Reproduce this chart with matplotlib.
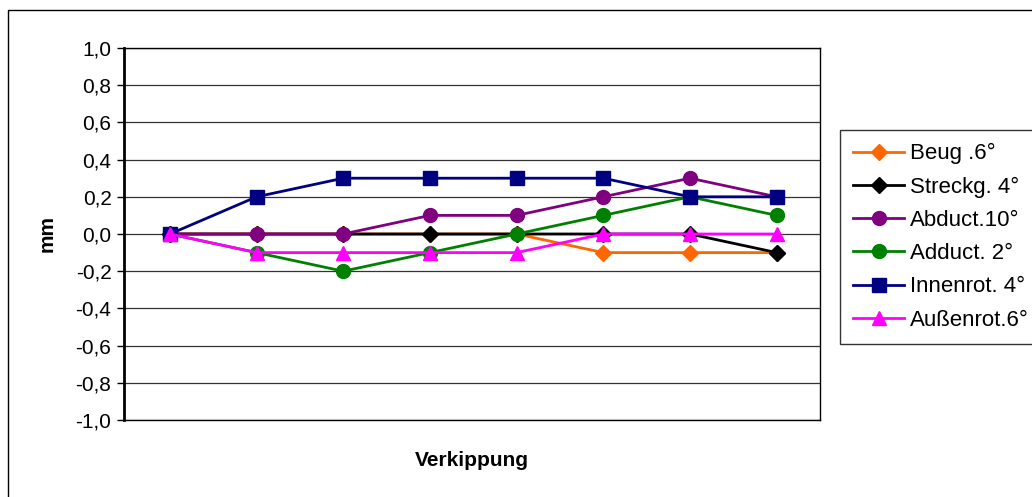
import matplotlib
matplotlib.use("Agg")
import matplotlib.pyplot as plt
from matplotlib.patches import Rectangle
from matplotlib.ticker import FuncFormatter

plt.rcParams['font.family'] = ['Liberation Sans', 'DejaVu Sans']

# Verkippungsstufen (ohne Beschriftung auf der x-Achse)
steps = [1, 2, 3, 4, 5, 6, 7, 8]

beug = [0.0, 0.0, 0.0, 0.0, 0.0, -0.1, -0.1, -0.1]
streckg = [0.0, 0.0, 0.0, 0.0, 0.0, 0.0, 0.0, -0.1]
abduct = [0.0, 0.0, 0.0, 0.1, 0.1, 0.2, 0.3, 0.2]
adduct = [0.0, -0.1, -0.2, -0.1, 0.0, 0.1, 0.2, 0.1]
innenrot = [0.0, 0.2, 0.3, 0.3, 0.3, 0.3, 0.2, 0.2]
aussenrot = [0.0, -0.1, -0.1, -0.1, -0.1, 0.0, 0.0, 0.0]

labels = ['Beug .6°', 'Streckg. 4°', 'Abduct.10°', 'Adduct. 2°',
          'Innenrot. 4°', 'Außenrot.6°']
yticks = [-1.0, -0.8, -0.6, -0.4, -0.2, 0.0, 0.2, 0.4, 0.6, 0.8, 1.0]

series = [
    (beug, '#FF6600', 'D', 8),
    (streckg, '#000000', 'D', 8),
    (abduct, '#800080', 'o', 10),
    (adduct, '#008000', 'o', 10),
    (innenrot, '#000080', 's', 9.5),
    (aussenrot, '#FF00FF', '^', 10),
]

fig = plt.figure(figsize=(10.32, 4.97), dpi=100)
ax = fig.add_axes([124 / 1032, 1 - 420 / 497, 696 / 1032, 372 / 497])

# Rahmen um das ganze Diagramm
fig.patches.append(Rectangle((8 / 1032, -0.05), 1.2, 1 - 10 / 497 + 0.05,
                             transform=fig.transFigure, fill=False,
                             edgecolor='black', linewidth=1.0))

for (vals, color, marker, ms), lab in zip(series, labels):
    ax.plot(steps, vals, color=color, marker=marker, markersize=ms,
            linewidth=2, label=lab, zorder=3)

ax.set_xlim(0.47, 8.5)
ax.set_ylim(-1.0, 1.0)
ax.set_yticks(yticks)
ax.yaxis.set_major_formatter(FuncFormatter(lambda v, p: f'{v:.1f}'.replace('.', ',')))
ax.set_xticks([])
ax.grid(axis='y', color='#333333', linewidth=0.9, zorder=0)
ax.tick_params(axis='y', direction='out', length=5, width=1, labelsize=15, pad=4)

ax.spines['left'].set_linewidth(2)
ax.spines['top'].set_linewidth(1)
ax.spines['right'].set_linewidth(1)
ax.spines['bottom'].set_linewidth(1)

ax.set_ylabel('mm', fontsize=15, fontweight='bold', labelpad=14)
ax.set_xlabel('Verkippung', fontsize=15, fontweight='bold', labelpad=22)

leg = fig.legend(loc='upper left', bbox_to_anchor=(840 / 1032, 1 - 130 / 497),
                 fontsize=16, frameon=True, fancybox=False, edgecolor='black',
                 handlelength=2.3, handletextpad=0.25, labelspacing=0.55,
                 borderpad=0.6, borderaxespad=0)
leg.get_frame().set_linewidth(1)

fig.savefig('out.png', dpi=100)
